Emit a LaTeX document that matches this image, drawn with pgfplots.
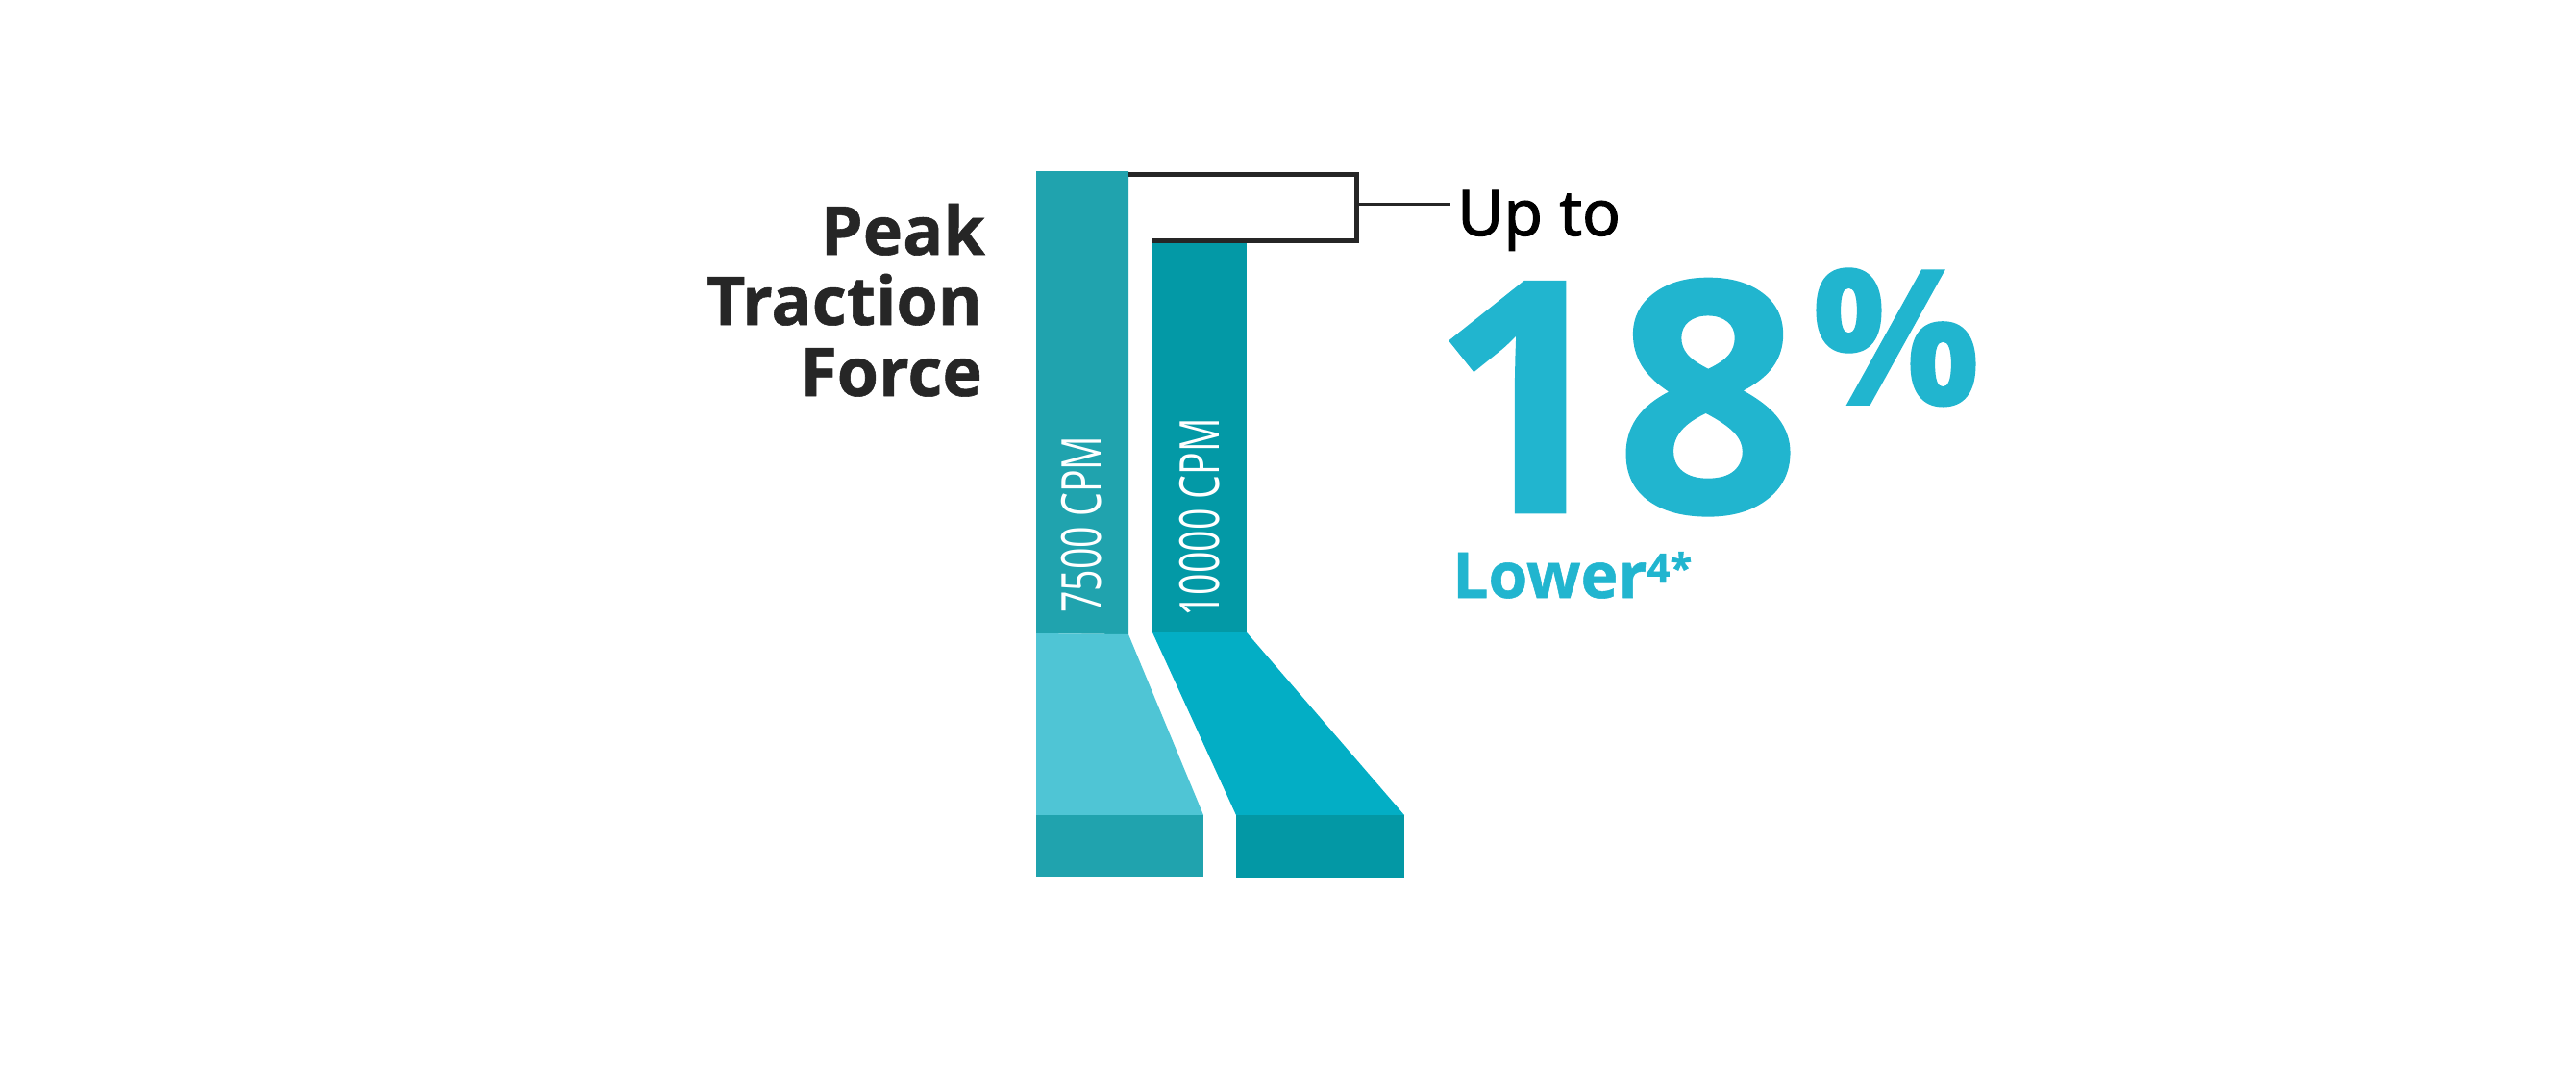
\documentclass[border=0pt]{standalone}
\usepackage{pgfplots}
\pgfplotsset{compat=1.18}
\usepackage{fontspec}
\setmainfont{Open Sans}
\newfontfamily\cpmfont[FakeStretch=0.69]{Open Sans}
\newfontfamily\upfont[FakeBold=1.5]{Noto Sans}
\newcommand\bfont{\selectfont\bfseries\addfontfeatures{FakeBold=0.8}}

\definecolor{barA}{HTML}{20A3AE}
\definecolor{barAlow}{HTML}{4FC5D5}
\definecolor{barB}{HTML}{0399A6}
\definecolor{barBlow}{HTML}{03AEC5}
\definecolor{baseB}{HTML}{0398A5}
\definecolor{accent}{HTML}{21B5CF}
\definecolor{ink}{HTML}{262626}

% one reference pixel = 1pt
\begin{document}
\begin{tikzpicture}
\begin{axis}[
  width=2680pt, height=1108pt, scale only axis,
  xmin=0, xmax=2680, ymin=0, ymax=1108,
  y dir=reverse,
  hide axis,
  clip=false,
]
% page frame (pixel grid of the reference)
\addplot[draw=none, mark=none, forget plot] coordinates {(0,0) (2680,1108)};

% 7500 CPM column
\addplot[fill=barA, draw=none, mark=none] coordinates {(1078,178) (1174,178) (1174,660) (1078,659)} -- cycle;
\addplot[fill=barAlow, draw=none, mark=none] coordinates {(1078,659) (1174,660) (1252,848) (1078,848)} -- cycle;
\addplot[fill=barA, draw=none, mark=none] coordinates {(1078,848) (1252,848) (1252,912) (1078,912)} -- cycle;

% 10000 CPM column
\addplot[fill=barB, draw=none, mark=none] coordinates {(1199,251) (1297,251) (1297,658) (1199,658)} -- cycle;
\addplot[fill=barBlow, draw=none, mark=none] coordinates {(1199,658) (1297,658) (1461,848) (1286,848)} -- cycle;
\addplot[fill=baseB, draw=none, mark=none] coordinates {(1286,848) (1461,848) (1461,913) (1286,913)} -- cycle;

% bracket
\addplot[draw=ink, line width=5pt, mark=none, line join=miter] coordinates {(1174,181.5) (1411.5,181.5) (1411.5,250.5) (1199,250.5)};
\addplot[draw=ink, line width=3pt, mark=none] coordinates {(1414,212) (1509,212)};

% labels
\node[anchor=base east, inner sep=0, text=ink, font=\fontsize{70}{70}\bfont] at (axis cs:1025,265) {Peak};
\node[anchor=base east, inner sep=0, text=ink, font=\fontsize{70}{70}\bfont] at (axis cs:1022,338) {Traction};
\node[anchor=base east, inner sep=0, text=ink, font=\fontsize{70}{70}\bfont] at (axis cs:1022,412) {Force};

\node[anchor=base west, inner sep=0, rotate=90, text=white, font=\fontsize{57}{57}\cpmfont] at (axis cs:1145,638) {7500 CPM};
\node[anchor=base west, inner sep=0, rotate=90, text=white, font=\fontsize{57}{57}\cpmfont] at (axis cs:1268,642) {10000 CPM};

\node[anchor=base west, inner sep=0, text=black, font=\fontsize{66}{66}\upfont] at (axis cs:1516,245) {Up to};
\node[anchor=base west, inner sep=0, text=accent, font=\fontsize{336}{336}\bfont] at (axis cs:1489,533) {18};
\node[anchor=base west, inner sep=0, text=accent, font=\fontsize{196}{196}\bfont] at (axis cs:1884,421) {\%};
\node[anchor=base west, inner sep=0, text=accent, font=\fontsize{66}{66}\bfont] at (axis cs:1511,622) {Lower\raisebox{16pt}{\fontsize{42}{42}\bfont 4*}};
\end{axis}
\end{tikzpicture}
\end{document}
